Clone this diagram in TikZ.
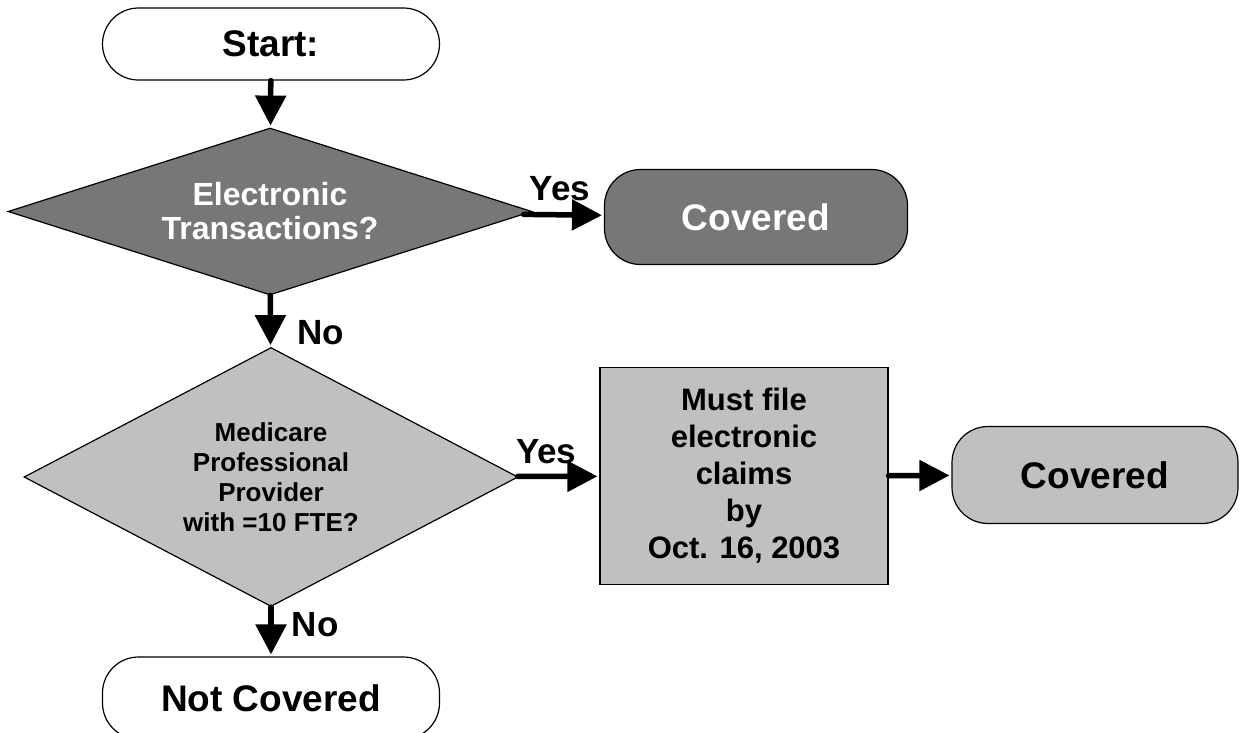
\documentclass[tikz,border=0pt]{standalone}
\usepackage{fontspec}
\setmainfont{Liberation Sans}
\usepackage{tikz}
\usetikzlibrary{shapes,shapes.geometric,arrows.meta}
\usetikzlibrary{positioning}

\definecolor{darkfill}{HTML}{777777}
\definecolor{lightfill}{HTML}{C0C0C0}

\begin{document}
\begin{tikzpicture}[x=1pt,y=-1pt,
        terminal/.style={rectangle,rounded corners=36pt,draw,line width=1.2pt,font=\bfseries\fontsize{37}{44}\selectfont,inner sep=0pt},
        decision/.style={diamond,draw,line width=1.2pt,align=center,inner sep=0pt},
        flow/.style={line width=5.5pt,line cap=round,-{Triangle[length=30pt,width=30pt]},shorten >=2pt},
        answer/.style={font=\bfseries\fontsize{35}{42}\selectfont,inner sep=2pt}]
        \useasboundingbox (0,0) rectangle (1241,732);

        \node at (271,44) [terminal,minimum width=337pt,minimum height=72pt] (start) {Start:};
        \node at (270,211.5) [decision,fill=darkfill,text=white,aspect=3.14,minimum width=524pt,minimum height=167pt,
            font=\bfseries\fontsize{32}{34}\selectfont] (electronic) {Electronic\\Transactions?};
        \node at (756,217) [terminal,fill=darkfill,text=white,minimum width=303pt,minimum height=95pt] (coveredA) {Covered};
        \node at (271,477) [decision,fill=lightfill,aspect=1.9,minimum width=494pt,minimum height=259pt,
            font=\bfseries\fontsize{26}{30}\selectfont] (medicare) {Medicare\\Professional\\Provider\\with =10 FTE?};
        \node at (744,476) [rectangle,draw,line width=1.2pt,fill=lightfill,minimum width=288pt,minimum height=217pt,
            align=center,font=\bfseries\fontsize{31}{37}\selectfont] (mustfile) {Must file\\electronic\\claims\\by\\Oct. 16, 2003};
        \node at (1095,475) [terminal,fill=lightfill,minimum width=286pt,minimum height=97pt] (coveredB) {Covered};
        \node at (271,698) [terminal,minimum width=337pt,minimum height=82pt] (notcovered) {Not Covered};

        \draw[flow] (start) -- (electronic);
        \draw[flow] (electronic) -- (coveredA) node [pos=0.45, above, answer, yshift=9pt] (yesA) {Yes};
        \draw[flow] (electronic) -- (medicare) node [pos=0.72, right, answer, xshift=22pt] (noA) {No};
        \draw[flow] (medicare) -- (mustfile) node [pos=0.35, above, answer, yshift=8pt] (yesB) {Yes};
        \draw[flow] (mustfile) -- (coveredB);
        \draw[flow] (medicare) -- (notcovered) node [pos=0.35, right, answer, xshift=16pt] (noB) {No};
    \end{tikzpicture}
\end{document}
